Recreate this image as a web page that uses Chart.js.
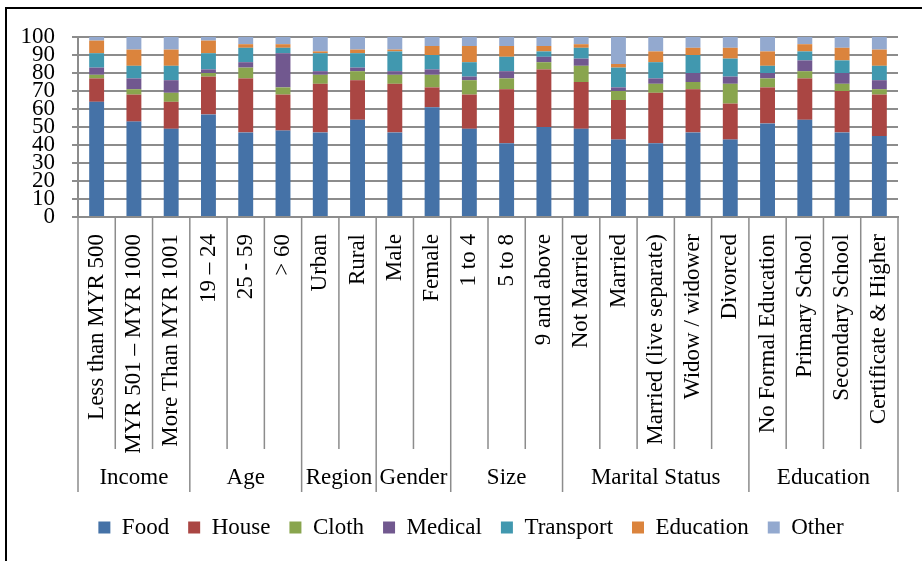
<!DOCTYPE html>
<html>
<head>
<meta charset="utf-8">
<script src="https://cdn.jsdelivr.net/npm/chart.js@4/dist/chart.umd.min.js"></script>
<style>
  html, body { margin: 0; padding: 0; background: #fff; overflow: hidden; }
  #frame { position: absolute; left: 5px; top: 7px; width: 1000px; height: 700px;
           border-left: 2px solid #000; border-top: 2px solid #000; }
  #wrap { position: absolute; left: 0; top: 0; width: 922px; height: 561px; }
</style>
</head>
<body>
<div id="frame"></div>
<div id="wrap"><canvas id="chart"></canvas></div>
<script>
// categories and their groups
const categories = [
  "Less than MYR 500", "MYR 501 – MYR 1000", "More Than MYR 1001",
  "19 – 24", "25 - 59", "> 60",
  "Urban", "Rural",
  "Male", "Female",
  "1 to 4", "5 to 8", "9 and above",
  "Not Married", "Married", "Married (live separate)", "Widow / widower", "Divorced",
  "No Formal Education", "Primary School", "Secondary School", "Certificate & Higher"
]
const groupNames = ["Income", "Age", "Region", "Gender", "Size", "Marital Status", "Education"]
const groupSizes = [3, 3, 2, 2, 3, 5, 4]

// series values (%)
const food      = [64, 53, 49, 57, 47, 48, 47, 54, 47, 61, 49, 41, 50, 49, 43, 41, 47, 43, 52, 54, 47, 45]
const house     = [13, 15, 15, 21, 30, 20, 27, 22, 27, 11, 19, 30, 32, 26, 22, 28, 24, 20, 20, 23, 23, 23]
const cloth     = [ 2,  3,  5,  2,  6,  4,  5,  5,  5,  7,  8,  6,  4,  9,  5,  5,  4, 11,  5,  4,  4,  3]
const medical   = [ 4,  6,  7,  2,  3, 19,  2,  2,  2,  3,  2,  4,  3,  4,  2,  3,  5,  4,  3,  6,  6,  5]
const transport = [ 8,  7,  8,  9,  8,  3, 10,  8, 11,  8,  8,  8,  3,  6, 11,  9, 10, 10,  4,  5,  7,  8]
const education = [ 7,  9,  9,  7,  2,  2,  1,  2,  1,  5,  9,  6,  3,  2,  2,  6,  4,  6,  8,  4,  7,  9]
const other     = [ 2,  7,  7,  2,  4,  4,  8,  7,  7,  5,  5,  5,  5,  4, 15,  8,  6,  6,  8,  4,  6,  7]

const yTicks = [0, 10, 20, 30, 40, 50, 60, 70, 80, 90, 100]

const FONT = "'Liberation Serif', 'Times New Roman', serif"
const GRID = '#8c8c8c'

// draws the category separators and the group labels under the axis
const groupAxis = {
  id: 'groupAxis',
  afterLayout(chart) {
    // legend sits a little right of centre in the original
    chart.legend.left += 22
    chart.legend.right += 22
  },
  afterDraw(chart) {
    const ctx = chart.ctx
    const x = chart.scales.x
    const half = (x.getPixelForValue(1) - x.getPixelForValue(0)) / 2
    const top = x.top
    const innerBottom = 449
    const outerBottom = 492
    ctx.save()
    ctx.strokeStyle = GRID
    ctx.lineWidth = 1.5
    ctx.font = '23px ' + FONT
    ctx.fillStyle = '#000'
    ctx.textAlign = 'center'
    ctx.textBaseline = 'middle'
    let idx = 0
    groupSizes.forEach((n, g) => {
      const left = x.getPixelForValue(idx) - half
      const right = x.getPixelForValue(idx + n - 1) + half
      ctx.beginPath()
      ctx.moveTo(left, top); ctx.lineTo(left, outerBottom)
      if (g === groupSizes.length - 1) { ctx.moveTo(right, top); ctx.lineTo(right, outerBottom) }
      for (let k = 1; k < n; k++) {
        const sx = x.getPixelForValue(idx + k) - half
        ctx.moveTo(sx, top); ctx.lineTo(sx, innerBottom)
      }
      ctx.stroke()
      ctx.fillText(groupNames[g], (left + right) / 2, 478)
      idx += n
    })
    ctx.restore()
  }
}

const mk = (label, data, color) => ({
  label: label, data: data, backgroundColor: color,
  barPercentage: 0.4, categoryPercentage: 1.0
})

new Chart(document.getElementById('chart'), {
  type: 'bar',
  data: {
    labels: categories,
    datasets: [
      mk('Food', food, '#4572A7'),
      mk('House', house, '#AA4643'),
      mk('Cloth', cloth, '#89A54E'),
      mk('Medical', medical, '#71588F'),
      mk('Transport', transport, '#4198AF'),
      mk('Education', education, '#DB843D'),
      mk('Other', other, '#93A9CF')
    ]
  },
  options: {
    responsive: true,
    maintainAspectRatio: false,
    animation: false,
    layout: { padding: { left: 0, right: 24, top: 37, bottom: 12 } },
    plugins: {
      tooltip: { enabled: false },
      legend: {
        position: 'bottom',
        labels: {
          boxWidth: 12, boxHeight: 12, padding: 19, color: '#000',
          font: { family: FONT, size: 23 }
        }
      }
    },
    scales: {
      x: {
        stacked: true,
        grid: { display: false },
        border: { display: true, color: GRID, width: 2 },
        ticks: {
          autoSkip: false, minRotation: 90, maxRotation: 90, padding: 9,
          color: '#000', font: { family: FONT, size: 23 }
        },
        afterFit(scale) { scale.height = 280 }
      },
      y: {
        stacked: true,
        min: 0, max: 100,
        afterBuildTicks(scale) { scale.ticks = yTicks.map(v => ({ value: v })) },
        grid: { color: GRID, lineWidth: 2, tickLength: 6 },
        border: { display: true, color: GRID, width: 2 },
        ticks: {
          autoSkip: false, padding: 17, color: '#000',
          font: { family: FONT, size: 23, lineHeight: 1 }
        },
        afterFit(scale) { scale.width = 78 }
      }
    }
  },
  plugins: [groupAxis]
})
</script>
</body>
</html>
